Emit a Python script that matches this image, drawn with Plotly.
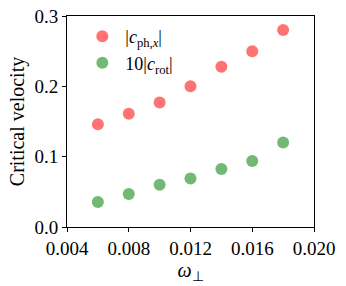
import plotly.graph_objects as go

omega = [0.006, 0.008, 0.010, 0.012, 0.014, 0.016, 0.018]
c_ph = [0.146, 0.161, 0.177, 0.200, 0.228, 0.250, 0.280]
c_rot10 = [0.0356, 0.047, 0.060, 0.069, 0.0825, 0.094, 0.120]
xticks = [0.004, 0.008, 0.012, 0.016, 0.020]
yticks = [0.0, 0.1, 0.2, 0.3]

font = "'Liberation Serif', 'Times New Roman', serif"
fig = go.Figure()
fig.add_trace(go.Scatter(x=omega, y=c_ph, mode="markers", name="|<i>c</i><sub>ph,<i>x</i></sub>|",
                         marker=dict(size=12, color="rgba(255,0,0,0.55)", line=dict(width=0))))
fig.add_trace(go.Scatter(x=omega, y=c_rot10, mode="markers", name="10|<i>c</i><sub>rot</sub>|",
                         marker=dict(size=12, color="rgba(0,128,0,0.55)", line=dict(width=0))))
axis_common = dict(showgrid=False, zeroline=False, showline=True, linecolor="black", linewidth=1,
                   mirror=True, ticks="outside", ticklen=4, tickcolor="black",
                   tickfont=dict(family=font, size=19, color="black"))
fig.update_xaxes(range=[0.004, 0.020], tickvals=xticks, ticktext=[f"{v:.3f}" for v in xticks],
                 title=dict(text="<i>ω</i><sub>⊥</sub>", font=dict(family=font, size=20, color="black"), standoff=4),
                 **axis_common)
fig.update_yaxes(range=[0, 0.3], tickvals=yticks, ticktext=[f"{v:.1f}" for v in yticks],
                 title=dict(text="Critical velocity", font=dict(family=font, size=20, color="black"), standoff=4),
                 **axis_common)
fig.update_layout(width=346, height=286, margin=dict(l=67, r=32, t=16, b=59, autoexpand=False),
                  plot_bgcolor="white", paper_bgcolor="white",
                  legend=dict(x=0.05, y=0.99, xanchor="left", yanchor="top", bgcolor="rgba(0,0,0,0)",
                              font=dict(family=font, size=18, color="black"), tracegroupgap=0,
                              itemwidth=36),
                  showlegend=True)
fig.write_html("out.html", config={"displayModeBar": False},
               post_script="document.body.style.margin='0';document.body.style.overflow='hidden';")
